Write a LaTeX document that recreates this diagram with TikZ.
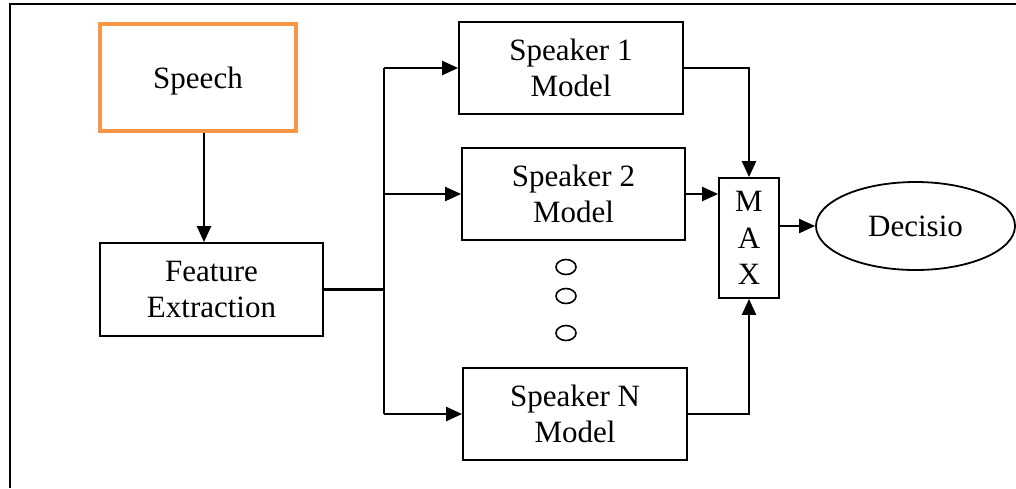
\documentclass[tikz,border=0pt]{standalone}
\usepackage{fontspec}
\setmainfont{Liberation Serif}
\usetikzlibrary{arrows.meta,shapes.geometric}
\definecolor{speechorange}{HTML}{F79646}
\tikzset{
  boxnode/.style={draw=black, line width=1.8pt, rectangle, inner sep=0pt, align=center,
    font=\fontsize{31}{36.5}\selectfont},
  conn/.style={line width=2.2pt, black},
  arr/.style={conn, -{Triangle[length=16pt,width=14pt]}},
  dotnode/.style={draw, ellipse, line width=1.6pt, minimum width=20pt, minimum height=15pt, inner sep=0pt}
}
\begin{document}
\begin{tikzpicture}[x=1pt,y=-1pt]
\useasboundingbox (0,0) rectangle (1016,488);
% partial frame
\draw[line width=2.5pt] (1016,4) -- (10,4) -- (10,488);

\node[boxnode, draw=speechorange, line width=4.5pt, minimum width=196pt, minimum height=107pt] (SP) at (198,77.5) {};
\node[font=\fontsize{31}{36.5}\selectfont, inner sep=0pt] (SPT) at (198,81) {Speech};
\node[boxnode, minimum width=223pt, minimum height=93pt] (FE) at (211.5,289.5) {Feature\\Extraction};
\node[boxnode, minimum width=224pt, minimum height=92pt] (S1) at (571,68) {Speaker 1\\Model};
\node[boxnode, minimum width=223pt, minimum height=92pt] (S2) at (573.5,194) {Speaker 2\\Model};
\node[boxnode, minimum width=224pt, minimum height=92pt] (SN) at (575,414) {Speaker N\\Model};
\node[boxnode, minimum width=60pt, minimum height=120pt] (MX) at (749,238) {M\\A\\X};
\node[boxnode, ellipse, minimum width=199pt, minimum height=88pt] (DE) at (915.5,226) {Decisio};

\node[dotnode] (d1) at (566,267) {};
\node[dotnode] (d2) at (566,296) {};
\node[dotnode] (d3) at (566,333) {};

\coordinate (bus) at (384,286);

\draw[arr] ([xshift=6pt]SP.south) -- ([xshift=6pt]SP.south |- FE.north);
\draw[conn] (FE.east) -- (bus |- FE.east);
\draw[conn] (bus |- S1.west) -- (bus |- SN.west);
\draw[arr] (bus |- S1.west) -- (S1.west);
\draw[arr] (bus |- S2.west) -- (S2.west);
\draw[arr] (bus |- SN.west) -- (SN.west);

\draw[arr] (S1.east) -| (MX.north);
\draw[arr] (S2.east) -- (MX.west |- S2.east);
\draw[arr] (SN.east) -| (MX.south);
\draw[arr] (MX.east |- DE.west) -- (DE.west);
\end{tikzpicture}
\end{document}
